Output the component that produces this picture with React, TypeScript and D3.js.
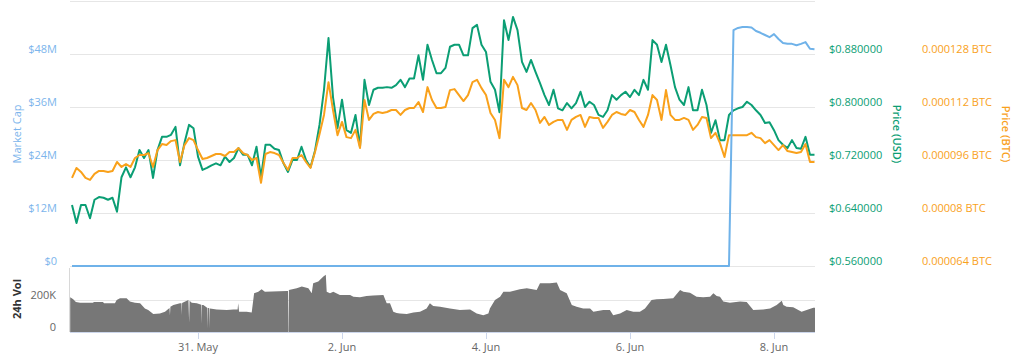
import React from "react";
import * as d3 from "d3";

// ---------- DATA ----------
const HOUR = 3600e3;
const BASE_UTC = Date.UTC(2018, 4, 29, 6, 0); // first price sample: 29 May 06:00
const PRICE_STEP_HOURS = 1.5;

// Price (USD), one value every 1.5 h
const usdPrice = [
  0.652, 0.625, 0.652, 0.652, 0.632, 0.660, 0.664, 0.663, 0.660, 0.663,
  0.642, 0.694, 0.709, 0.694, 0.709, 0.735, 0.723, 0.735, 0.693, 0.735,
  0.755, 0.755, 0.758, 0.770, 0.712, 0.746, 0.773, 0.768, 0.725, 0.705,
  0.708, 0.712, 0.715, 0.712, 0.725, 0.717, 0.723, 0.738, 0.728, 0.728,
  0.712, 0.740, 0.694, 0.743, 0.743, 0.737, 0.735, 0.715, 0.702, 0.720,
  0.720, 0.740, 0.720, 0.709, 0.734, 0.773, 0.826, 0.904, 0.815, 0.768,
  0.811, 0.765, 0.761, 0.788, 0.740, 0.841, 0.803, 0.826, 0.829, 0.829,
  0.830, 0.829, 0.833, 0.841, 0.830, 0.843, 0.843, 0.878, 0.841, 0.894,
  0.871, 0.851, 0.851, 0.859, 0.891, 0.894, 0.894, 0.878, 0.878, 0.919,
  0.924, 0.894, 0.883, 0.838, 0.826, 0.792, 0.931, 0.901, 0.936, 0.916,
  0.868, 0.853, 0.871, 0.853, 0.836, 0.818, 0.803, 0.826, 0.798, 0.795,
  0.806, 0.798, 0.806, 0.823, 0.800, 0.808, 0.803, 0.788, 0.785, 0.795,
  0.818, 0.811, 0.818, 0.823, 0.815, 0.826, 0.818, 0.841, 0.826, 0.901,
  0.894, 0.868, 0.894, 0.863, 0.830, 0.811, 0.803, 0.830, 0.795, 0.795,
  0.826, 0.803, 0.761, 0.780, 0.750, 0.750, 0.788, 0.795, 0.798, 0.800,
  0.808, 0.803, 0.795, 0.788, 0.776, 0.777, 0.765, 0.750, 0.743, 0.738,
  0.750, 0.738, 0.737, 0.755, 0.728, 0.728,
];

// Price (BTC) in micro-BTC (x 1e-6), same sampling
const btcPriceMicro = [
  90.6, 93.6, 92.4, 90.6, 90.0, 91.8, 92.7, 92.7, 92.4, 92.7,
  95.4, 93.9, 94.8, 93.9, 96.6, 97.5, 97.5, 98.1, 93.9, 99.0,
  100.8, 100.5, 101.7, 102.0, 95.4, 100.5, 102.6, 102.0, 99.0, 96.3,
  96.6, 97.2, 97.8, 97.8, 97.2, 98.4, 98.4, 99.6, 98.1, 97.5,
  96.0, 96.6, 89.1, 97.8, 98.4, 98.1, 97.5, 95.1, 93.0, 96.6,
  96.6, 97.5, 95.4, 93.6, 98.4, 103.8, 109.6, 119.5, 111.1, 103.5,
  107.5, 102.9, 102.6, 105.1, 99.6, 114.1, 108.1, 109.9, 110.5, 110.2,
  110.5, 111.1, 111.1, 109.6, 111.1, 111.7, 111.7, 113.5, 110.5, 118.0,
  114.1, 111.7, 111.7, 112.0, 117.1, 117.4, 115.6, 113.8, 115.6, 119.5,
  120.2, 117.7, 115.6, 110.2, 108.1, 102.6, 120.2, 118.0, 121.1, 118.6,
  111.7, 111.1, 113.2, 111.1, 107.2, 109.0, 106.6, 107.5, 108.1, 108.1,
  105.1, 108.1, 109.0, 109.6, 106.0, 109.0, 108.7, 108.7, 105.7, 107.5,
  109.6, 110.5, 109.9, 109.6, 111.1, 110.5, 108.1, 106.0, 109.6, 115.6,
  114.1, 108.1, 117.1, 109.6, 108.1, 108.1, 108.7, 108.1, 105.1, 106.6,
  109.0, 108.7, 102.6, 104.2, 101.1, 96.9, 103.5, 103.5, 103.5, 103.5,
  103.5, 104.2, 102.9, 102.6, 101.1, 102.0, 100.5, 99.0, 100.5, 98.7,
  98.4, 98.1, 98.4, 100.8, 95.4, 95.4,
];

// Market cap in $M, same sampling
const marketCapM = [
  0, 0, 0, 0, 0, 0, 0, 0, 0, 0,
  0, 0, 0, 0, 0, 0, 0, 0, 0, 0,
  0, 0, 0, 0, 0, 0, 0, 0, 0, 0,
  0, 0, 0, 0, 0, 0, 0, 0, 0, 0,
  0, 0, 0, 0, 0, 0, 0, 0, 0, 0,
  0, 0, 0, 0, 0, 0, 0, 0, 0, 0,
  0, 0, 0, 0, 0, 0, 0, 0, 0, 0,
  0, 0, 0, 0, 0, 0, 0, 0, 0, 0,
  0, 0, 0, 0, 0, 0, 0, 0, 0, 0,
  0, 0, 0, 0, 0, 0, 0, 0, 0, 0,
  0, 0, 0, 0, 0, 0, 0, 0, 0, 0,
  0, 0, 0, 0, 0, 0, 0, 0, 0, 0,
  0, 0, 0, 0, 0, 0, 0, 0, 0, 0,
  0, 0, 0, 0, 0, 0, 0, 0, 0, 0,
  0, 0, 0, 0, 0, 0, 0, 53.4, 53.9, 54.1,
  54.1, 54.0, 53.2, 52.8, 52.3, 51.8, 52.5, 51.4, 50.5, 50.3,
  50.3, 50.0, 50.3, 50.7, 49.2, 49.1,
];

// 24h volume: hours after 29 May 06:00, and volume in thousands
const volHours = [
  -0.6, 0.4, 1.3, 2.7, 7, 7.3, 10.3, 10.7, 14.3, 14.9,
  16, 18.2, 19.3, 21, 22.7, 24.3, 25.4, 27.1, 29.3, 31,
  32.5, 32.65, 32.8, 33.8, 36, 36.5, 36.6, 36.7, 37.7, 38.8,
  39.05, 39.2, 39.9, 41.6, 43.1, 43.2, 43.3, 43.8, 45.15, 45.25,
  45.35, 45.7, 45.8, 45.9, 46, 48.2, 51.6, 53.8, 55.2, 55.4,
  55.7, 58.2, 59.9, 60.7, 62.1, 63.2, 64.3, 71.6, 72.0, 72.1,
  72.2, 72.3, 74.9, 76.6, 78.8, 79.9, 80.4, 82.1, 83.8, 84.6,
  84.9, 86, 87.1, 89.3, 92.7, 93.8, 96, 98.2, 100.4, 103.8,
  104.9, 106, 107.1, 108.2, 109.3, 111.6, 113.8, 116, 118.2, 119.3,
  120.4, 122.7, 126, 129.3, 132.7, 134.9, 137.1, 138.8, 139.3, 141,
  142.7, 143.8, 146, 149.3, 151.6, 154.9, 156, 159.3, 161.6, 162.7,
  164.9, 166.6, 168.2, 170.4, 172.7, 173.8, 177.1, 179.3, 180.4, 182.7,
  184.9, 187.1, 189.3, 191, 193.2, 194.9, 197.1, 200.4, 202.7, 203.8,
  206, 208.2, 210.4, 212.7, 213.8, 214.9, 216, 217.1, 219.3, 222.7,
  224.9, 227.1, 230.4, 232.7, 234.9, 236.6, 237.1, 238.2, 240.4, 242.1,
  243.2, 244.9, 247.1, 247.67,
];
const volK = [
  217, 204, 187, 183, 183, 188, 188, 179, 179, 200,
  211, 211, 190, 183, 179, 147, 137, 112, 116, 126,
  150, 105, 158, 168, 179, 179, 105, 182, 190, 200,
  60, 195, 183, 179, 170, 50, 168, 168, 150, 21,
  150, 150, 21, 147, 147, 140, 137, 140, 140, 179,
  126, 126, 122, 242, 252, 267, 252, 256, 256, 0,
  0, 263, 273, 284, 273, 242, 305, 316, 347, 358,
  252, 242, 252, 232, 232, 221, 217, 225, 228, 232,
  179, 179, 126, 119, 116, 112, 122, 126, 147, 179,
  162, 158, 147, 137, 140, 116, 105, 116, 147, 200,
  221, 252, 252, 267, 273, 263, 305, 305, 309, 263,
  242, 168, 158, 147, 147, 126, 137, 137, 105, 116,
  137, 126, 126, 147, 200, 204, 206, 211, 263, 252,
  246, 221, 217, 221, 242, 225, 221, 190, 183, 190,
  187, 137, 140, 147, 168, 196, 168, 158, 154, 137,
  126, 137, 151, 151,
];

// Axis ticks
const mcapTicks = [0, 12, 24, 36, 48];
const mcapGridTop = 60;
const usdTicks = [0.56, 0.64, 0.72, 0.8, 0.88];
const btcTicksMicro = [64, 80, 96, 112, 128];
const btcTickLabels = ["0.000064 BTC", "0.00008 BTC", "0.000096 BTC", "0.000112 BTC", "0.000128 BTC"];
const volTicks = [0, 200];
const dateTicks = [
  Date.UTC(2018, 4, 31),
  Date.UTC(2018, 5, 2),
  Date.UTC(2018, 5, 4),
  Date.UTC(2018, 5, 6),
  Date.UTC(2018, 5, 8),
];
const dateTickLabels = ["31. May", "2. Jun", "4. Jun", "6. Jun", "8. Jun"];

// ---------- STYLE / LAYOUT ----------
const W = 1024;
const H = 357;
const PLOT_L = 70;
const PLOT_R = 815;
const MAIN_TOP = 1;
const MAIN_BOTTOM = 266;
const VOL_TOP = 268;
const VOL_BOTTOM = 332;

const C_BLUE = "#6fb2e9";
const C_BLUE_TXT = "#7cb5ec";
const C_GREEN = "#0b9e74";
const C_ORANGE = "#f9a11b";
const C_GRID = "#e6e6e6";
const C_VOL = "#777777";
const FONT = "'Open Sans', 'Lucida Grande', Arial, sans-serif";

export default function App() {
  const x = d3
    .scaleUtc()
    .domain([new Date(BASE_UTC - (2 / 3) * HOUR), new Date(BASE_UTC + 247.67 * HOUR)])
    .range([PLOT_L, PLOT_R]);
  const yMcap = d3.scaleLinear().domain([0, 60]).range([MAIN_BOTTOM, MAIN_TOP]);
  const yUsd = d3.scaleLinear().domain([0.56, 0.96]).range([MAIN_BOTTOM, MAIN_TOP]);
  const yBtc = d3.scaleLinear().domain([64, 144]).range([MAIN_BOTTOM, MAIN_TOP]);
  const yVol = d3.scaleLinear().domain([0, 400]).range([VOL_BOTTOM, VOL_TOP]);

  const tPrice = (i: number) => new Date(BASE_UTC + i * PRICE_STEP_HOURS * HOUR);

  const usdLine = d3
    .line<number>()
    .x((_, i) => x(tPrice(i)))
    .y((d) => yUsd(d))(usdPrice) as string;
  const btcLine = d3
    .line<number>()
    .x((_, i) => x(tPrice(i)))
    .y((d) => yBtc(d))(btcPriceMicro) as string;
  const mcapLine = d3
    .line<number>()
    .x((_, i) => x(tPrice(i)))
    .y((d) => yMcap(d))(marketCapM) as string;
  const volArea = d3
    .area<number>()
    .x((_, i) => x(new Date(BASE_UTC + volHours[i] * HOUR)))
    .y0(yVol(0))
    .y1((d) => yVol(d))(volK) as string;

  const labelStyle = { fontFamily: FONT, fontSize: 11 } as const;

  return (
    <svg
      width={W}
      height={H}
      style={{ position: "absolute", left: 0, top: 0, display: "block", background: "#fff" }}
    >
      <rect x={0} y={0} width={W} height={H} fill="#fff" />
      {/* main grid */}
      {[...mcapTicks, mcapGridTop].map((v) => (
        <line
          key={"g" + v}
          x1={PLOT_L}
          x2={PLOT_R}
          y1={Math.round(yMcap(v)) + 0.5}
          y2={Math.round(yMcap(v)) + 0.5}
          stroke={C_GRID}
          strokeWidth={1}
        />
      ))}
      {/* volume grid and axes */}
      {volTicks.map((v) => (
        <line
          key={"vg" + v}
          x1={PLOT_L}
          x2={PLOT_R}
          y1={Math.round(yVol(v)) + 0.5}
          y2={Math.round(yVol(v)) + 0.5}
          stroke={v === 0 ? "#ccd6eb" : C_GRID}
          strokeWidth={1}
        />
      ))}
      <line x1={PLOT_L - 0.5} x2={PLOT_L - 0.5} y1={VOL_TOP} y2={VOL_BOTTOM} stroke="#d8d8d8" />
      <path d={volArea} fill={C_VOL} />
      {dateTicks.map((t, i) => (
        <g key={"dt" + i}>
          <line
            x1={Math.round(x(new Date(t))) + 0.5}
            x2={Math.round(x(new Date(t))) + 0.5}
            y1={VOL_BOTTOM}
            y2={VOL_BOTTOM + 7}
            stroke="#ccd6eb"
          />
          <text
            x={x(new Date(t))}
            y={351}
            textAnchor="middle"
            fill="#666"
            style={labelStyle}
          >
            {dateTickLabels[i]}
          </text>
        </g>
      ))}

      {/* price lines */}
      <path d={usdLine} fill="none" stroke={C_GREEN} strokeWidth={2} strokeLinejoin="round" />
      <path d={btcLine} fill="none" stroke={C_ORANGE} strokeWidth={2} strokeLinejoin="round" />
      <path d={mcapLine} fill="none" stroke={C_BLUE} strokeWidth={2} strokeLinejoin="round" />

      {/* left axis labels */}
      {mcapTicks.map((v) => (
        <text
          key={"ml" + v}
          x={57}
          y={yMcap(v) - 5}
          dy="0.35em"
          textAnchor="end"
          fill={C_BLUE_TXT}
          style={labelStyle}
        >
          {v === 0 ? "$0" : `$${v}M`}
        </text>
      ))}
      {volTicks.map((v) => (
        <text
          key={"vl" + v}
          x={56}
          y={yVol(v) - 5}
          dy="0.35em"
          textAnchor="end"
          fill="#666"
          style={labelStyle}
        >
          {v === 0 ? "0" : `${v}K`}
        </text>
      ))}
      {/* right axis labels */}
      {usdTicks.map((v) => (
        <text
          key={"ul" + v}
          x={829}
          y={yUsd(v) - 5}
          dy="0.35em"
          textAnchor="start"
          fill={C_GREEN}
          style={labelStyle}
        >
          {"$" + v.toFixed(6)}
        </text>
      ))}
      {btcTicksMicro.map((v, i) => (
        <text
          key={"bl" + v}
          x={922}
          y={yBtc(v) - 5}
          dy="0.35em"
          textAnchor="start"
          fill={C_ORANGE}
          style={labelStyle}
        >
          {btcTickLabels[i]}
        </text>
      ))}

      {/* axis titles */}
      <text
        transform="translate(17,134) rotate(-90)"
        textAnchor="middle"
        dy="0.35em"
        fill={C_BLUE_TXT}
        style={labelStyle}
      >
        Market Cap
      </text>
      <text
        transform="translate(17,299) rotate(-90)"
        textAnchor="middle"
        dy="0.35em"
        fill="#333"
        style={{ ...labelStyle, fontWeight: 700 }}
      >
        24h Vol
      </text>
      <text
        transform="translate(897,134) rotate(90)"
        textAnchor="middle"
        dy="0.35em"
        fill={C_GREEN}
        style={{ ...labelStyle, fontWeight: 600 }}
      >
        Price (USD)
      </text>
      <text
        transform="translate(1006,134) rotate(90)"
        textAnchor="middle"
        dy="0.35em"
        fill={C_ORANGE}
        style={{ ...labelStyle, fontWeight: 600 }}
      >
        Price (BTC)
      </text>
    </svg>
  );
}
